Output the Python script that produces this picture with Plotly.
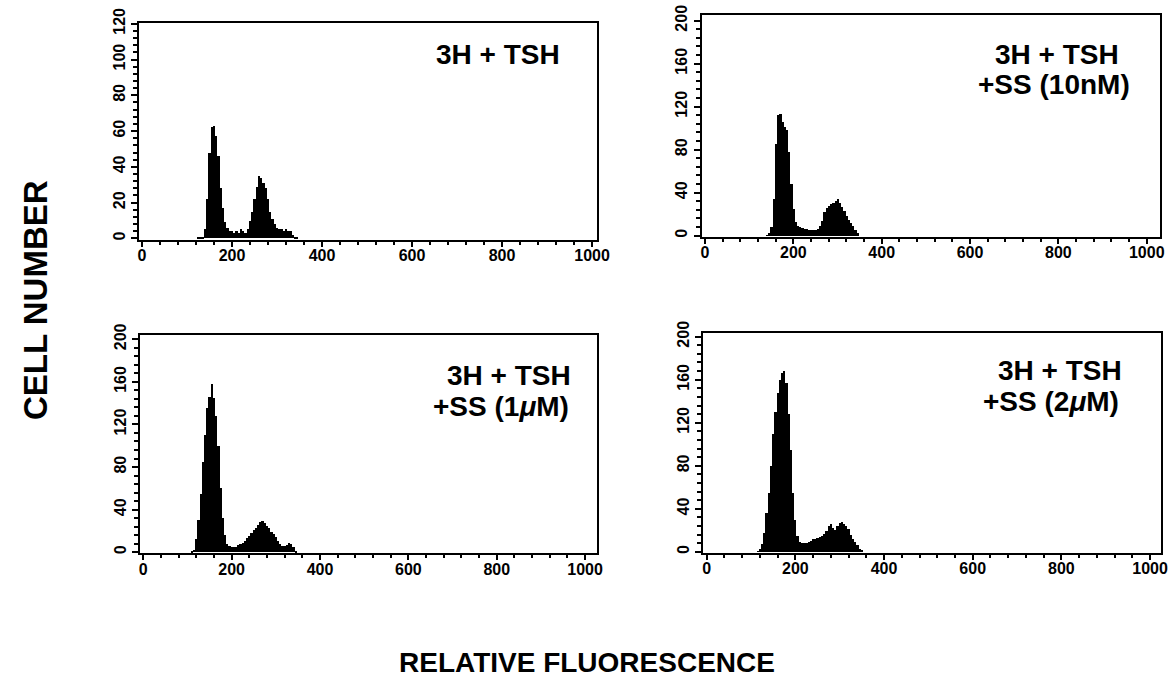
import plotly.graph_objects as go
from plotly.subplots import make_subplots

W, H = 1175, 683

# ---- data (bin centres in relative fluorescence units, bin width 5) ----
bins_a = list(range(125, 355, 5))
counts_a = [0.5, 0.5, 1, 5, 22, 48, 62, 63, 57, 46, 28, 17, 9, 6, 4, 4, 3, 4, 3, 5,
            4, 3, 5, 10, 15, 22, 29, 35, 34, 31, 28, 22, 15, 11, 8, 6, 5, 5, 4, 5,
            4, 4, 2, 1, 0.5, 0]

bins_b = list(range(140, 355, 5))
counts_b = [0.5, 2, 8, 34, 85, 112, 113, 106, 101, 98, 78, 48, 25, 13, 9, 8, 7, 6, 6, 5,
            5, 5, 5, 6, 9, 14, 22, 26, 28, 29, 30, 32, 34, 30, 27, 23, 18, 15, 12, 9,
            5, 2, 0]

bins_c = list(range(110, 355, 5))
counts_c = [0.5, 2, 12, 30, 55, 85, 110, 135, 146, 158, 145, 128, 100, 60, 32, 16, 8, 6, 5, 5,
            5, 7, 8, 9, 11, 13, 15, 18, 21, 23, 26, 28, 29, 27, 25, 23, 19, 17, 14, 11,
            8, 6, 6, 7, 9, 8, 5, 1, 0]

bins_d = list(range(115, 360, 5))
counts_d = [0.5, 3, 7, 18, 36, 55, 80, 110, 130, 148, 160, 166, 168, 157, 128, 95, 55, 30, 15, 9,
            8, 8, 8, 9, 10, 12, 12, 13, 14, 15, 17, 19, 24, 26, 22, 20, 24, 27, 28, 26,
            24, 21, 16, 12, 9, 6, 3, 1, 0]

x_ticks = [0, 200, 400, 600, 800, 1000]
y_ticks_a = [0, 20, 40, 60, 80, 100, 120]
y_ticks_bcd = [0, 40, 80, 120, 160, 200]

labels_1 = ["3H + TSH", "3H + TSH", "3H + TSH", "3H + TSH"]
labels_2 = [None, "+SS (10nM)", "+SS (1<i>μ</i>M)", "+SS (2<i>μ</i>M)"]

x_title = "RELATIVE FLUORESCENCE"
y_title = "CELL NUMBER"

FONT = "Liberation Sans, Arial, sans-serif"

fig = make_subplots(rows=2, cols=2)

series = [(bins_a, counts_a, 1, 1), (bins_b, counts_b, 1, 2),
          (bins_c, counts_c, 2, 1), (bins_d, counts_d, 2, 2)]
for bx, cy, r, c in series:
    fig.add_trace(go.Bar(x=bx, y=cy, width=5, marker=dict(color="black", line=dict(width=0)),
                         showlegend=False), row=r, col=c)

def px_x(p):
    return p / W

def px_y(p):
    return 1 - p / H

# panel geometry (pixel boxes) and axis ranges
panels = [
    ((139, 597), (23, 239.5), [-6.7, 1011], [-0.6, 120.4], y_ticks_a, 4),
    ((701.7, 1160), (15, 236.7), [-7.5, 1030], [-1, 205.3], y_ticks_bcd, 8),
    ((140, 597), (335, 553.3), [-7.5, 1027], [-1, 204], y_ticks_bcd, 8),
    ((703, 1160.7), (333, 553), [-8.3, 1024], [-1, 203.4], y_ticks_bcd, 8),
]

tickfont = dict(family=FONT, size=16, color="black", weight="bold")
for i, (xd, yd, xr, yr, yt, ym) in enumerate(panels):
    xa = "xaxis" if i == 0 else f"xaxis{i+1}"
    ya = "yaxis" if i == 0 else f"yaxis{i+1}"
    fig.layout[xa].update(
        domain=[px_x(xd[0]), px_x(xd[1])], range=xr, tickvals=x_ticks, automargin=False,
        showline=True, mirror=True, linewidth=2, linecolor="black",
        ticks="outside", ticklen=5, tickwidth=2, tickcolor="black", ticklabelstandoff=-5,
        minor=dict(dtick=40, tick0=0, ticks="outside", ticklen=3, tickwidth=2, tickcolor="black"),
        showgrid=False, zeroline=False, tickfont=tickfont,
    )
    fig.layout[ya].update(
        domain=[px_y(yd[1]), px_y(yd[0])], range=yr, tickvals=yt, tickangle=-90, automargin=False,
        showline=True, mirror=True, linewidth=2, linecolor="black",
        ticks="outside", ticklen=6, tickwidth=2, tickcolor="black",
        minor=dict(dtick=ym, tick0=0, ticks="outside", ticklen=4, tickwidth=1.5, tickcolor="black"),
        showgrid=False, zeroline=False, tickfont=tickfont,
    )

ann_font = dict(family=FONT, size=28, color="black", weight="bold")
annotations = [
    dict(text=labels_1[0], x=px_x(498), y=px_y(55), xanchor="center", yanchor="middle"),
    dict(text=labels_1[1], x=px_x(1057), y=px_y(55), xanchor="center", yanchor="middle"),
    dict(text=labels_2[1], x=px_x(1054), y=px_y(84), xanchor="center", yanchor="middle"),
    dict(text=labels_1[2], x=px_x(573), y=px_y(375), xanchor="right", yanchor="middle"),
    dict(text=labels_2[2], x=px_x(571), y=px_y(406), xanchor="right", yanchor="middle"),
    dict(text=labels_1[3], x=px_x(1124), y=px_y(370), xanchor="right", yanchor="middle"),
    dict(text=labels_2[3], x=px_x(1121), y=px_y(401), xanchor="right", yanchor="middle"),
]
for a in annotations:
    a.update(xref="paper", yref="paper", showarrow=False, font=ann_font)

annotations.append(dict(text=x_title, x=px_x(587), y=px_y(662), xref="paper", yref="paper",
                        xanchor="center", yanchor="middle", showarrow=False,
                        font=dict(family=FONT, size=28, color="black", weight="bold")))
annotations.append(dict(text=y_title, x=px_x(35), y=px_y(300), xref="paper", yref="paper",
                        xanchor="center", yanchor="middle", showarrow=False, textangle=-90,
                        font=dict(family=FONT, size=33, color="black", weight="bold")))

fig.update_layout(
    width=W, height=H, margin=dict(l=0, r=0, t=0, b=0),
    paper_bgcolor="white", plot_bgcolor="white",
    bargap=0, annotations=annotations, showlegend=False,
)

fig.write_html(
    "out.html",
    config={"displayModeBar": False},
    post_script="document.body.style.margin='0';document.body.style.padding='0';"
                "document.documentElement.style.overflow='hidden';",
)
